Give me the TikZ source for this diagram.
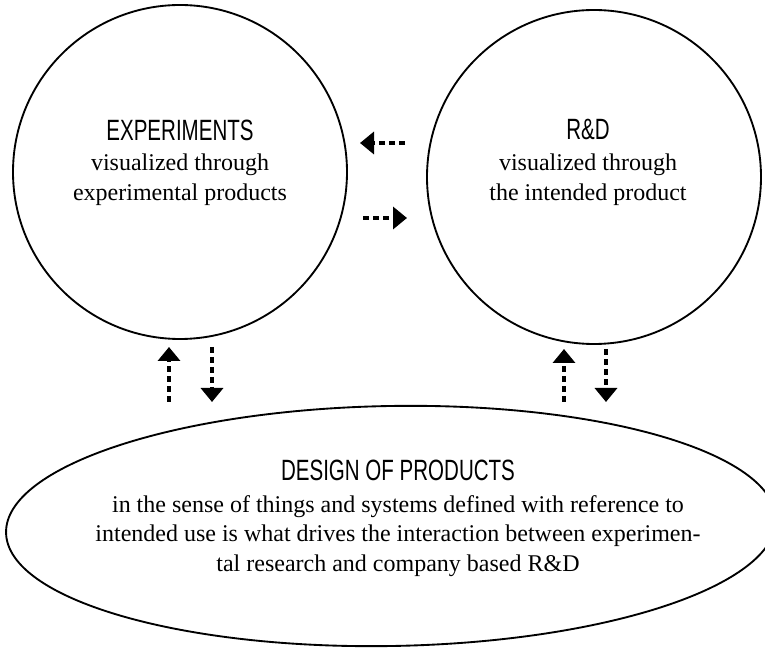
\documentclass[tikz,border=0pt]{standalone}
\usepackage{fontspec}
\setmainfont{Liberation Serif}
\newfontfamily\headfont[FakeStretch=0.70]{Liberation Sans}
\usetikzlibrary{arrows.meta,positioning,shapes.geometric}

\begin{document}
\begin{tikzpicture}[x=0.75pt, y=-0.75pt,
    every node/.style={inner sep=0pt},
    area/.style={draw, line width=1.4pt, circle, minimum size=250.5pt},
    head/.style={font=\headfont\fontsize{22}{26}\selectfont},
    body/.style={font=\fontsize{18}{22}\selectfont, align=center},
    flow/.style={line width=3.2pt, dash pattern=on 4.5pt off 3pt,
        -{Triangle[length=10.5pt, width=16.5pt]}}]
    \useasboundingbox (0,0) rectangle (765,648);
    \node[area] (exp) at (180,172) {};
    \node[area] (rnd) at (594,177) {};
    \node[draw, line width=1.4pt, ellipse, minimum width=577.5pt,
        minimum height=180pt, rotate=1] (design) at (391,526) {};

    \node[head] (exphead) at (180,130) {EXPERIMENTS};
    \node[body, below=10pt of exphead] (exptext)
        {visualized through\\experimental products};
    \node[head] (rndhead) at (588,130) {R\&D};
    \node[body, below=10pt of rndhead] (rndtext)
        {visualized through\\the intended product};
    \node[head] (deshead) at (398,470) {DESIGN OF PRODUCTS};
    \node[body, below=11pt of deshead] (destext)
        {in the sense of things and systems defined with reference to\\
         intended use is what drives the interaction between experimen-\\
         tal research and company based R\&D};

    \coordinate (r2e-a) at (405,143); \coordinate (r2e-b) at (360,143);
    \coordinate (e2r-a) at (363,218); \coordinate (e2r-b) at (407,218);
    \coordinate (d2e-a) at (169,402); \coordinate (d2e-b) at (169,347);
    \coordinate (e2d-a) at (212,347); \coordinate (e2d-b) at (212,402);
    \coordinate (d2r-a) at (564,402); \coordinate (d2r-b) at (564,349);
    \coordinate (r2d-a) at (606,349); \coordinate (r2d-b) at (606,402);

    \draw[flow] (r2e-a) -- (r2e-b);
    \draw[flow] (e2r-a) -- (e2r-b);
    \draw[flow] (d2e-a) -- (d2e-b);
    \draw[flow] (e2d-a) -- (e2d-b);
    \draw[flow] (d2r-a) -- (d2r-b);
    \draw[flow] (r2d-a) -- (r2d-b);
\end{tikzpicture}
\end{document}
